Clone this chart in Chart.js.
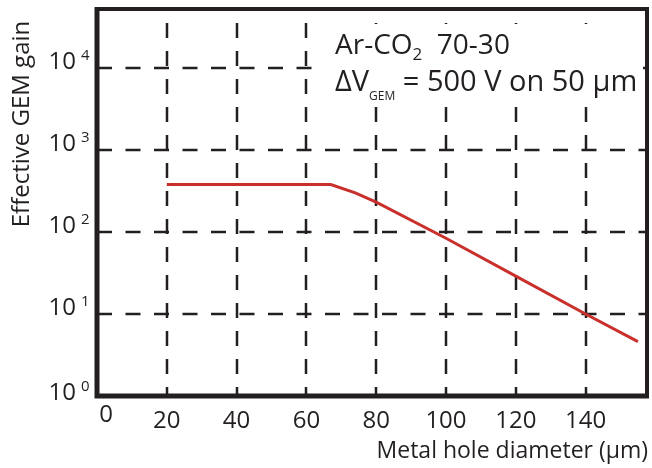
<!DOCTYPE html>
<html><head><meta charset="utf-8">
<script src="https://cdn.jsdelivr.net/npm/chart.js@4"></script>
<style>html,body{margin:0;padding:0;background:#fff}</style>
</head><body>
<canvas id="c" width="652" height="468"></canvas>
<script>
const holeDiameter = [20, 67, 74, 80, 100, 120, 140, 155];
const effectiveGain = [380, 380, 300, 232, 84, 29, 10, 4.6];
const xTickValues = [0, 20, 40, 60, 80, 100, 120, 140];
const yTickExponents = [0, 1, 2, 3, 4];
const xTitle = 'Metal hole diameter (\u00b5m)';
const yTitle = 'Effective GEM gain';

const FONT = '"Open Sans", sans-serif';
const INK = '#231f20';
const RED = '#c9302c';

function font(px){ return px + 'px ' + FONT; }

const decor = {
  id: 'decor',
  beforeDatasetsDraw(chart) {
    const {ctx, chartArea: a, scales: {x, y}} = chart;
    ctx.save();
    ctx.strokeStyle = INK; ctx.lineWidth = 2.5;
    ctx.setLineDash([15, 13]); ctx.lineDashOffset = 6;
    xTickValues.forEach(v => {
      if (v === 0) return;
      const px = Math.round(x.getPixelForValue(v));
      ctx.beginPath(); ctx.moveTo(px, a.bottom); ctx.lineTo(px, a.top); ctx.stroke();
    });
    ctx.setLineDash([15, 13.5]); ctx.lineDashOffset = 0;
    yTickExponents.forEach(e => {
      if (e === 0) return;
      const py = Math.round(y.getPixelForValue(Math.pow(10, e)));
      ctx.beginPath(); ctx.moveTo(a.left, py); ctx.lineTo(a.right, py); ctx.stroke();
    });
    ctx.restore();
    // white box behind the annotation
    ctx.save();
    ctx.fillStyle = '#ffffff';
    ctx.fillRect(312, 24, a.right - 4 - 312, 80);
    ctx.restore();
  },
  afterDatasetsDraw(chart) {
    const {ctx, chartArea: a} = chart;
    ctx.save();
    ctx.strokeStyle = INK; ctx.setLineDash([]);
    ctx.lineWidth = 4;
    ctx.beginPath(); ctx.moveTo(a.left, a.top); ctx.lineTo(a.right, a.top); ctx.lineTo(a.right, a.bottom); ctx.stroke();
    ctx.lineWidth = 5;
    ctx.beginPath(); ctx.moveTo(a.left, a.top - 2); ctx.lineTo(a.left, a.bottom); ctx.lineTo(a.right + 2, a.bottom); ctx.stroke();
    ctx.restore();
  },
  afterDraw(chart) {
    const {ctx, chartArea: a, scales: {x, y}} = chart;
    ctx.save();
    ctx.fillStyle = INK;
    // y tick labels
    yTickExponents.forEach(e => {
      const py = y.getPixelForValue(Math.pow(10, e));
      const base = e === 0 ? py + 4 : py + 1;
      ctx.font = font(24); ctx.textAlign = 'right'; ctx.textBaseline = 'alphabetic';
      ctx.fillText('10', 76, base);
      ctx.font = font(15); ctx.textAlign = 'left';
      ctx.fillText(String(e), 81, base - 9);
    });
    // x tick labels
    ctx.font = font(24); ctx.textAlign = 'center'; ctx.textBaseline = 'alphabetic';
    xTickValues.forEach(v => {
      const px = x.getPixelForValue(v);
      if (v === 0) ctx.fillText('0', px + 9, 422);
      else ctx.fillText(String(v), px, 428);
    });
    // x title
    ctx.font = font(23); ctx.textAlign = 'right';
    ctx.fillText(xTitle, 648, 458);
    // y title
    ctx.save();
    ctx.translate(29, 124); ctx.rotate(-Math.PI / 2);
    ctx.font = font(24); ctx.textAlign = 'center';
    ctx.fillText(yTitle, 0, 0);
    ctx.restore();
    // annotation
    ctx.textAlign = 'left';
    let cx = 335;
    ctx.font = font(28);
    ctx.fillText('Ar-CO', cx, 54); cx += ctx.measureText('Ar-CO').width;
    ctx.font = font(17);
    ctx.fillText('2', cx, 60); cx += ctx.measureText('2').width;
    ctx.font = font(28);
    ctx.fillText('  70-30', cx, 54);
    cx = 335;
    ctx.font = font(29);
    ctx.fillText('\u0394V', cx, 91); cx += ctx.measureText('\u0394V').width;
    ctx.font = font(12);
    ctx.fillText('GEM', cx, 100); cx += ctx.measureText('GEM').width;
    ctx.font = font(29);
    ctx.fillText(' = 500 V on 50 \u00b5m', cx, 91);
    ctx.restore();
  }
};

new Chart(document.getElementById('c'), {
  type: 'line',
  data: {
    datasets: [{
      data: holeDiameter.map((d, i) => ({x: d, y: effectiveGain[i]})),
      borderColor: RED,
      borderWidth: 3,
      pointRadius: 0,
      tension: 0,
      fill: false
    }]
  },
  options: {
    responsive: false,
    animation: false,
    devicePixelRatio: 1,
    layout: { padding: { left: 97, top: 9, right: 5, bottom: 72 } },
    plugins: { legend: { display: false }, tooltip: { enabled: false } },
    scales: {
      x: { type: 'linear', display: false, min: 0, max: 157.6 },
      y: { type: 'logarithmic', display: false, min: 1, max: 52500 }
    }
  },
  plugins: [decor]
});
</script>
</body></html>
